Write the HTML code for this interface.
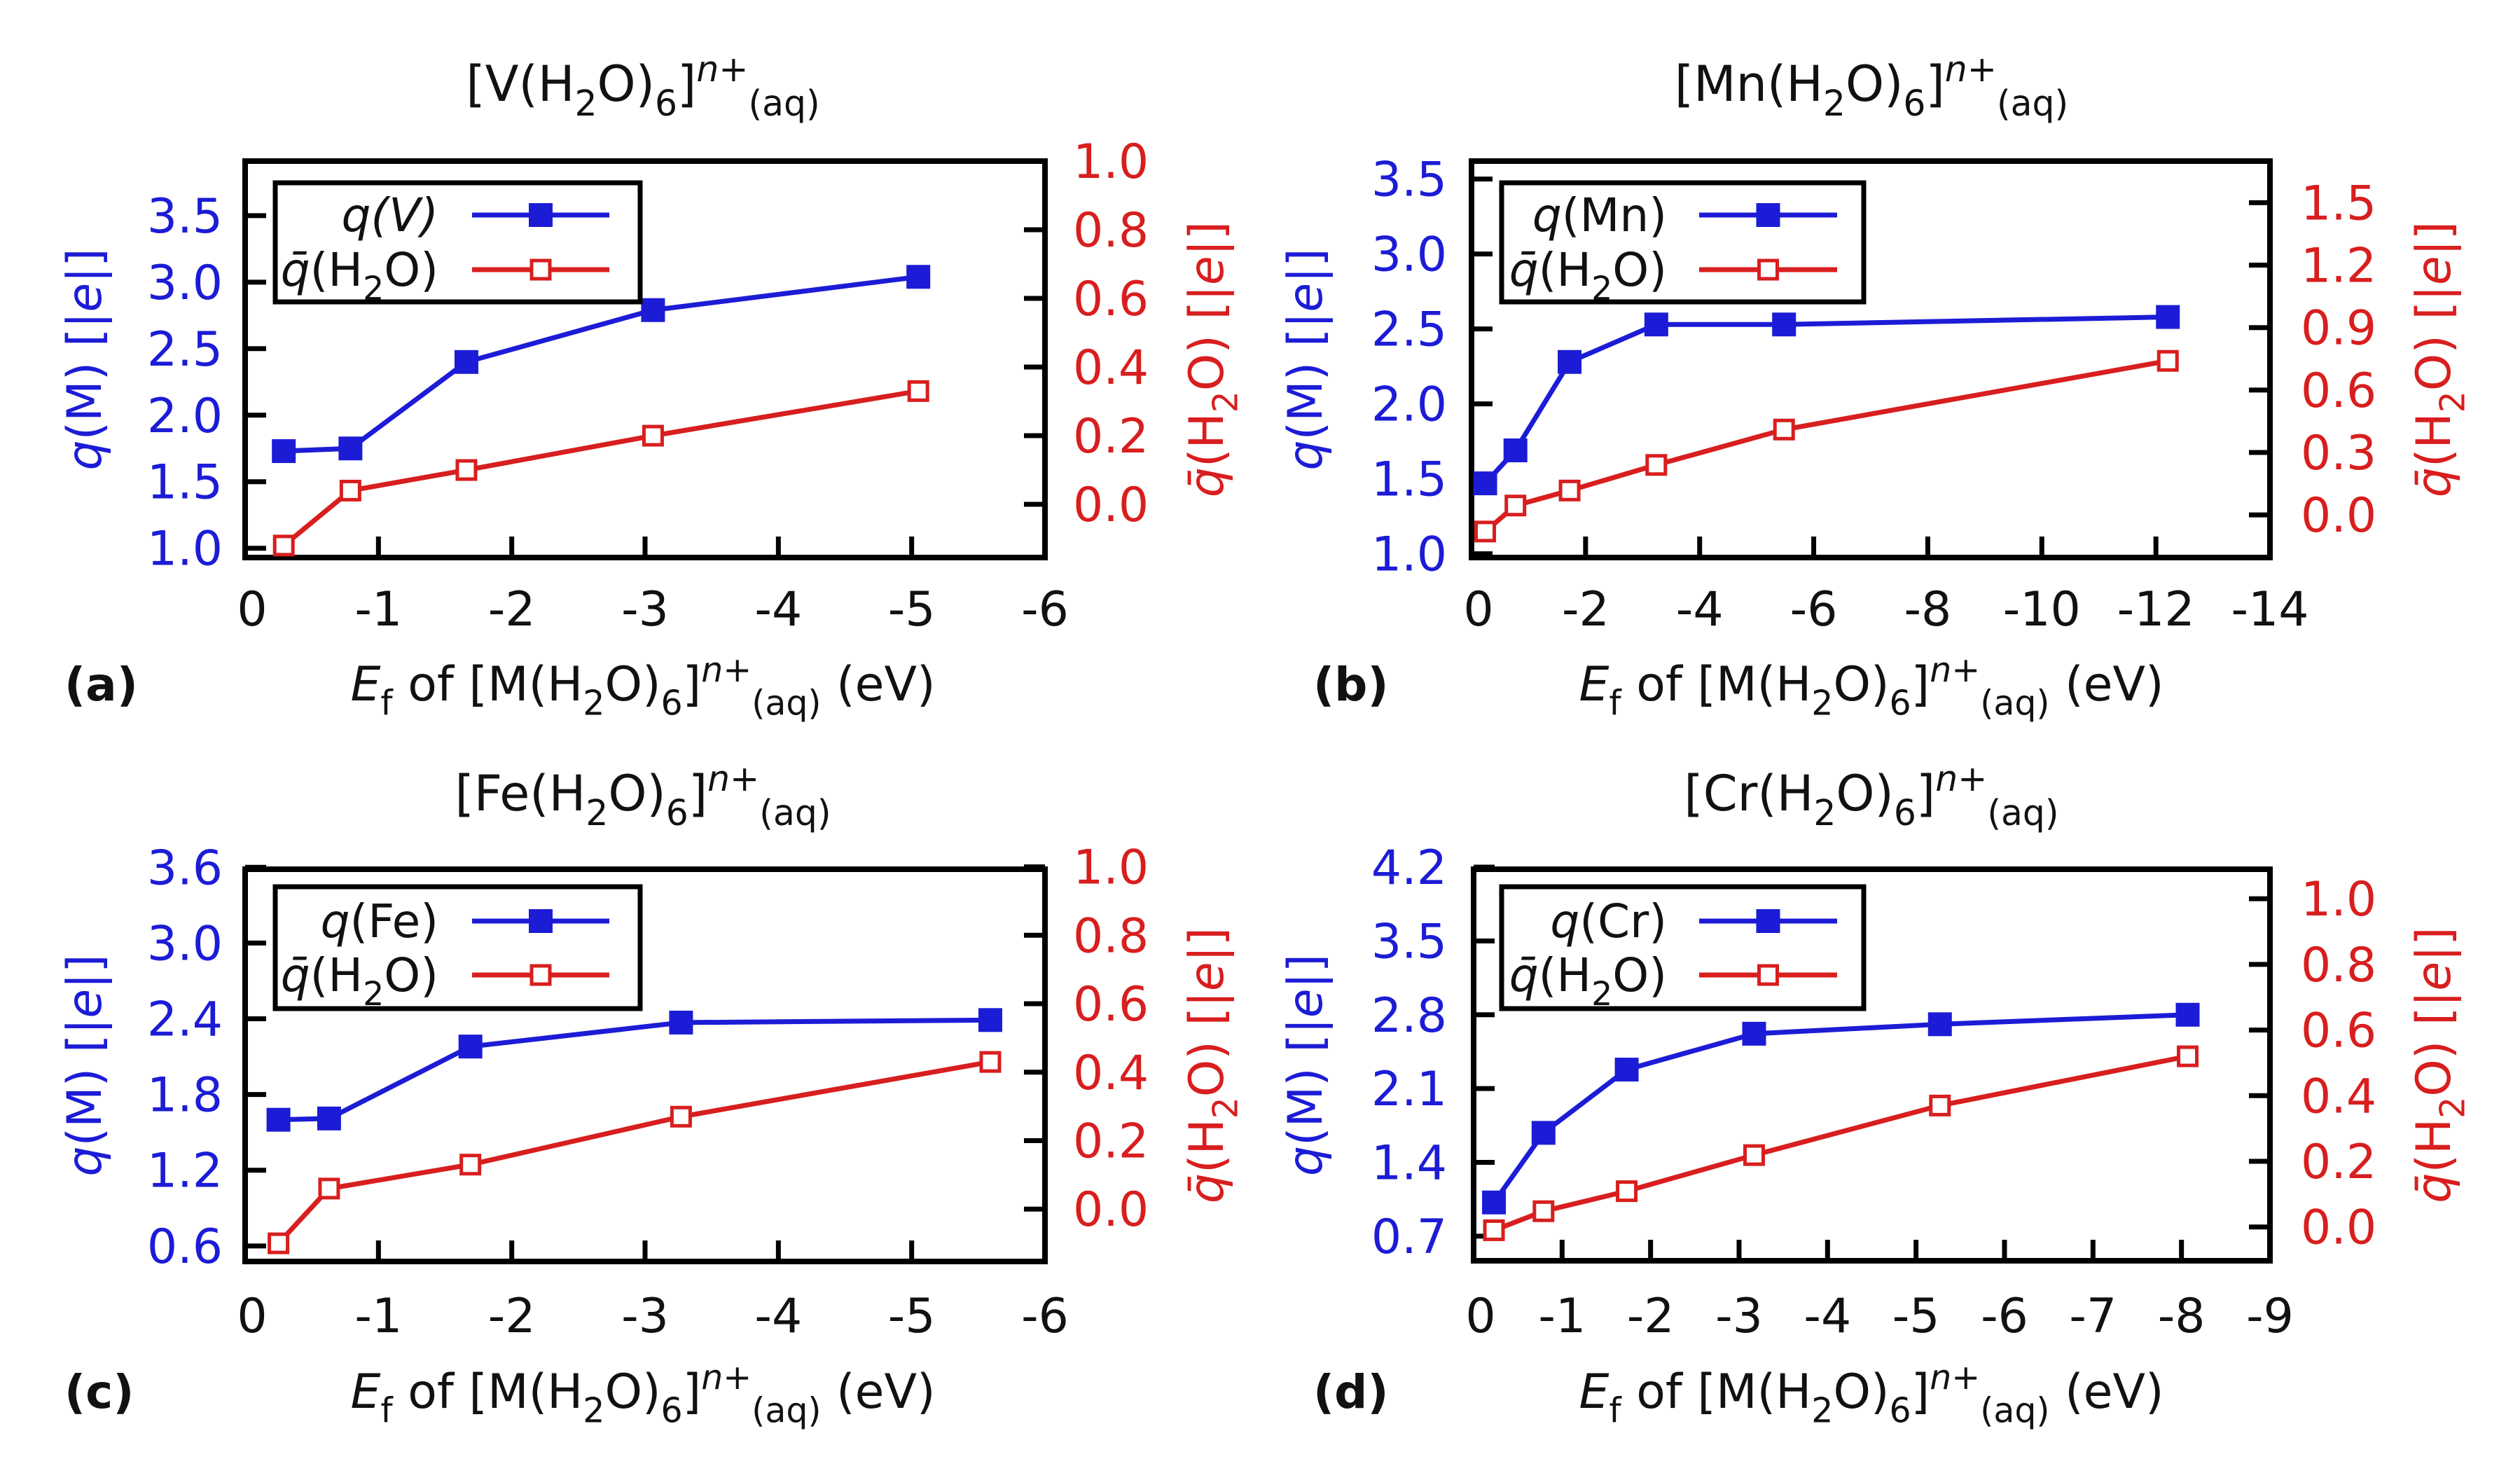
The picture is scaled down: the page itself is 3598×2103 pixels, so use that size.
<!DOCTYPE html>
<html><head><meta charset="utf-8"><style>
html,body{margin:0;padding:0;background:#fff;}
svg{display:block;font-family:"DejaVu Sans","Liberation Sans",sans-serif;}
</style></head><body>
<svg id="fig" width="3598" height="2103" viewBox="0 0 3598 2103" xmlns="http://www.w3.org/2000/svg"></svg>
<script>
// ---- data ----
const xA = [-0.29, -0.79, -1.66, -3.06, -5.05];
const qA = [1.73, 1.75, 2.40, 2.79, 3.04];
const wA = [-0.12, 0.04, 0.10, 0.20, 0.33];
const xB = [-0.24, -0.77, -1.72, -3.24, -5.48, -12.21];
const qB = [1.47, 1.69, 2.28, 2.53, 2.53, 2.58];
const wB = [-0.08, 0.045, 0.117, 0.24, 0.41, 0.74];
const xC = [-0.25, -0.63, -1.69, -3.27, -5.59];
const qC = [1.60, 1.61, 2.18, 2.37, 2.39];
const wC = [-0.10, 0.06, 0.13, 0.27, 0.43];
const xD = [-0.23, -0.79, -1.73, -3.17, -5.27, -8.07];
const qD = [1.02, 1.68, 2.28, 2.62, 2.71, 2.80];
const wD = [-0.01, 0.048, 0.109, 0.219, 0.37, 0.52];
const xTicksA = [0, -1, -2, -3, -4, -5, -6];
const xTicksB = [0, -2, -4, -6, -8, -10, -12, -14];
const xTicksD = [0, -1, -2, -3, -4, -5, -6, -7, -8, -9];
const lTicksA = [1.0, 1.5, 2.0, 2.5, 3.0, 3.5];
const lTicksC = [0.6, 1.2, 1.8, 2.4, 3.0, 3.6];
const lTicksD = [0.7, 1.4, 2.1, 2.8, 3.5, 4.2];
const rTicksA = [0.0, 0.2, 0.4, 0.6, 0.8, 1.0];
const rTicksB = [0.0, 0.3, 0.6, 0.9, 1.2, 1.5];

const BLUE = "#1c1cd6", RED = "#d81e1e";
const NS = "http://www.w3.org/2000/svg";
const svg = document.getElementById('fig');
function mk(tag, attrs, parent) {
  const e = document.createElementNS(NS, tag);
  for (const k in attrs) e.setAttribute(k, attrs[k]);
  (parent || svg).appendChild(e);
  return e;
}
function tspans(t, parts, size) {
  let shift = 0;
  parts.forEach(p => {
    const s = document.createElementNS(NS, 'tspan');
    let target = 0, fs = size;
    if (p[1] === 'sub') { target = size * 0.3; fs = size * 0.72; }
    if (p[1] === 'sup' || p[1] === 'supit') { target = -size * 0.4; fs = size * 0.72; }
    s.setAttribute('dy', target - shift);
    shift = target;
    s.setAttribute('font-size', fs);
    if (p[1] === 'it' || p[1] === 'supit') s.setAttribute('font-style', 'italic');
    s.textContent = p[0];
    t.appendChild(s);
  });
}

const TK = 68, TT = 70, AX = 68, LG = 66;

const panels = [
  {id:'a', metal:'V', legend:'q(V)', legItalicAll:true, L:350, R:1492, T:230, B:796,
   xd:[0,-6], yl:[0.93,3.91], yr:[-0.155,1.0], xs:xA, qs:qA, ws:wA, xt:xTicksA, lt:lTicksA, rt:rTicksA,
   cx:918, titleY:144, tickY:893, axY:1000, lab:92, lyt:120, ryt:1768, ltx:318, rtx:1532,
   leg:{l:393,r:914,t:261,b:431, tx:626, l1:674, l2:870, y1:307, y2:385}},
  {id:'b', metal:'Mn', legend:'Mn', L:2101, R:3241, T:230, B:796,
   xd:[0,-14], yl:[0.975,3.62], yr:[-0.205,1.70], xs:xB, qs:qB, ws:wB, xt:xTicksB, lt:lTicksA, rt:rTicksB,
   cx:2672, titleY:144, tickY:893, axY:1000, lab:1875, lyt:1863, ryt:3520, ltx:2066, rtx:3285,
   leg:{l:2144,r:2661,t:261,b:431, tx:2380, l1:2426, l2:2623, y1:307, y2:385}},
  {id:'c', metal:'Fe', legend:'Fe', L:350, R:1492, T:1241, B:1801,
   xd:[0,-6], yl:[0.477,3.585], yr:[-0.153,0.993], xs:xC, qs:qC, ws:wC, xt:xTicksA, lt:lTicksC, rt:rTicksA,
   cx:918, titleY:1157, tickY:1902, axY:2010, lab:92, lyt:120, ryt:1768, ltx:318, rtx:1532,
   leg:{l:393,r:914,t:1266,b:1440, tx:626, l1:674, l2:870, y1:1315, y2:1392}},
  {id:'d', metal:'Cr', legend:'Cr', L:2104, R:3241, T:1241, B:1800,
   xd:[0,-9], yl:[0.467,4.18], yr:[-0.103,1.09], xs:xD, qs:qD, ws:wD, xt:xTicksD, lt:lTicksD, rt:rTicksA,
   cx:2672, titleY:1157, tickY:1902, axY:2010, lab:1875, lyt:1863, ryt:3520, ltx:2066, rtx:3285,
   leg:{l:2144,r:2661,t:1266,b:1440, tx:2380, l1:2426, l2:2623, y1:1315, y2:1392}}
];

panels.forEach(p => {
  const g = mk('g', {});
  
  
  const X = v => p.L + (v - p.xd[0]) / (p.xd[1] - p.xd[0]) * (p.R - p.L);
  const YL = v => p.B - (v - p.yl[0]) / (p.yl[1] - p.yl[0]) * (p.B - p.T);
  const YR = v => p.B - (v - p.yr[0]) / (p.yr[1] - p.yr[0]) * (p.B - p.T);

  const tt = mk('text', {x:p.cx, y:p.titleY, 'text-anchor':'middle', fill:'#111', 'font-size':TT}, g);
  
  
  tspans(tt, [['['+p.metal+'(H','n'],['2','sub'],['O)','n'],['6','sub'],[']','n'],['n+','supit'],['(aq)','sub']], TT);

  p.xt.forEach(v => {
    const x = X(v);
    if (v !== p.xd[0] && v !== p.xd[1]) mk('line', {x1:x, x2:x, y1:p.B, y2:p.B-30, stroke:'#000','stroke-width':7}, g);
    const t = mk('text', {x:x+(v===0?10:0), y:p.tickY, 'text-anchor':'middle', 'font-size':TK, fill:'#111'}, g);
    
    
    t.textContent = String(v);
  });
  p.lt.forEach(v => {
    const y = YL(v);
    mk('line', {x1:p.L, x2:p.L+30, y1:y, y2:y, stroke:'#000','stroke-width':7}, g);
    const t = mk('text', {x:p.ltx, y:y+24, 'text-anchor':'end', 'font-size':TK, fill:BLUE}, g);
    
    
    t.textContent = v.toFixed(1);
  });
  p.rt.forEach(v => {
    const y = YR(v);
    mk('line', {x1:p.R, x2:p.R-30, y1:y, y2:y, stroke:'#000','stroke-width':7}, g);
    const t = mk('text', {x:p.rtx, y:y+24, 'text-anchor':'start', 'font-size':TK, fill:RED}, g);
    
    
    t.textContent = v.toFixed(1);
  });

  const fr = mk('rect', {x:p.L, y:p.T, width:p.R-p.L, height:p.B-p.T, fill:'none', stroke:'#000', 'stroke-width':8}, g);
  
  

  const blue = mk('polyline', {points:p.xs.map((x,i)=>X(x)+','+YL(p.qs[i])).join(' '), fill:'none', stroke:BLUE, 'stroke-width':7}, g);
  
  
  const red = mk('polyline', {points:p.xs.map((x,i)=>X(x)+','+YR(p.ws[i])).join(' '), fill:'none', stroke:RED, 'stroke-width':7}, g);
  
  
  p.xs.forEach((x,i) => {
    const m = mk('rect', {x:X(x)-17, y:YL(p.qs[i])-17, width:34, height:34, fill:BLUE}, g);
    
    
    const r = mk('rect', {x:X(x)-13, y:YR(p.ws[i])-13, width:26, height:26, fill:'#fff', stroke:RED, 'stroke-width':5}, g);
    
    
  });

  const lg = p.leg;
  const lb = mk('rect', {x:lg.l, y:lg.t, width:lg.r-lg.l, height:lg.b-lg.t, fill:'#fff', stroke:'#000', 'stroke-width':7}, g);
  
  
  const t1 = mk('text', {x:lg.tx, y:lg.y1+23, 'text-anchor':'end', 'font-size':LG, fill:'#111'}, g);
  
  
  if (p.legItalicAll) tspans(t1, [['q(V)','it']], LG);
  else tspans(t1, [['q','it'],['('+p.legend+')','n']], LG);
  const t2 = mk('text', {x:lg.tx, y:lg.y2+23, 'text-anchor':'end', 'font-size':LG, fill:'#111'}, g);
  
  
  tspans(t2, [['q̄','it'],['(H','n'],['2','sub'],['O)','n']], LG);
  mk('line', {x1:lg.l1, x2:lg.l2, y1:lg.y1, y2:lg.y1, stroke:BLUE, 'stroke-width':7}, g);
  mk('rect', {x:(lg.l1+lg.l2)/2-17, y:lg.y1-17, width:34, height:34, fill:BLUE}, g);
  mk('line', {x1:lg.l1, x2:lg.l2, y1:lg.y2, y2:lg.y2, stroke:RED, 'stroke-width':7}, g);
  mk('rect', {x:(lg.l1+lg.l2)/2-13, y:lg.y2-13, width:26, height:26, fill:'#fff', stroke:RED, 'stroke-width':5}, g);

  const xt = mk('text', {x:p.cx, y:p.axY, 'text-anchor':'middle', 'font-size':AX, fill:'#111'}, g);
  
  
  tspans(xt, [['E','it'],['f','sub'],[' of [M(H','n'],['2','sub'],['O)','n'],['6','sub'],[']','n'],['n+','supit'],['(aq)','sub'],[' (eV)','n']], AX);
  const pl = mk('text', {x:p.lab, y:p.axY, 'font-size':66, 'font-weight':'bold', fill:'#111'}, g);
  
  
  pl.textContent = '(' + p.id + ')';
  const cy = (p.T + p.B) / 2;
  const ly = mk('text', {x:0, y:0, 'text-anchor':'middle', 'font-size':AX, fill:BLUE, transform:'translate('+(p.lyt+24)+','+cy+') rotate(-90)'}, g);
  
  
  tspans(ly, [['q','it'],['(M) [|','n'],['e','it'],['|]','n']], AX);
  const ry = mk('text', {x:0, y:0, 'text-anchor':'middle', 'font-size':AX, fill:RED, transform:'translate('+(p.ryt-22)+','+cy+') rotate(-90)'}, g);
  
  
  tspans(ry, [['q̄','it'],['(H','n'],['2','sub'],['O) [|','n'],['e','it'],['|]','n']], AX);
});
</script>
</body></html>
